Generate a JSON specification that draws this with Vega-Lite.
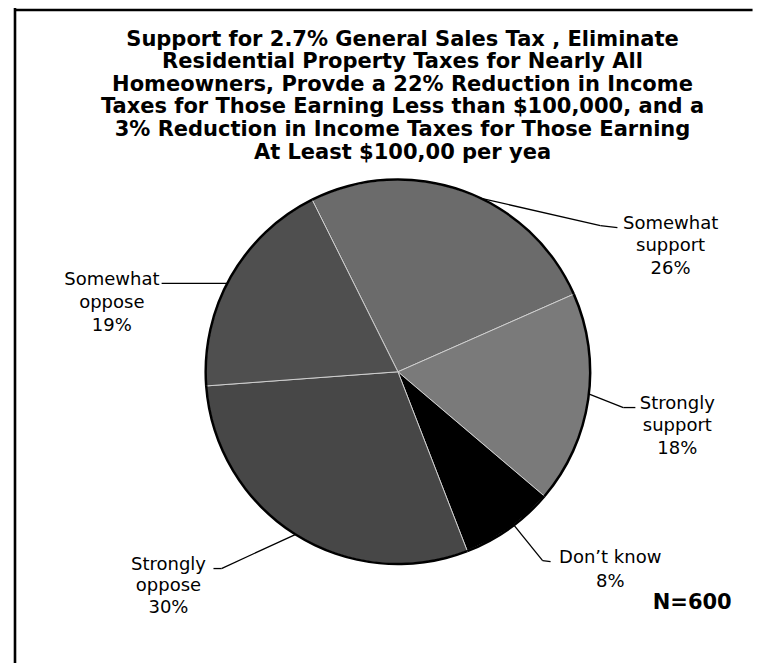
{
  "$schema": "https://vega.github.io/schema/vega-lite/v6.json",
  "width": 760,
  "height": 665,
  "autosize": {"type": "fit", "contains": "padding"},
  "padding": {"left": 13, "top": 6, "right": 0, "bottom": 0},
  "background": "white",
  "title": {
    "text": [
      "Support for 2.7% General Sales Tax , Eliminate",
      "Residential Property Taxes for Nearly All",
      "Homeowners, Provde a 22% Reduction in Income",
      "Taxes for Those Earning Less than $100,000, and a",
      "3% Reduction in Income Taxes for Those Earning",
      "At Least $100,00 per yea"
    ],
    "font": "DejaVu Sans",
    "fontSize": 21,
    "fontWeight": "bold",
    "lineHeight": 22.6,
    "color": "#000000",
    "anchor": "middle",
    "dx": 15,
    "offset": -156
  },
  "data": {
    "values": [
      {"response": "Somewhat support", "percent": 26, "slice": 1, "label": "Somewhat\nsupport\n26%"},
      {"response": "Strongly support", "percent": 18, "slice": 2, "label": "Strongly\nsupport\n18%"},
      {"response": "Don’t know", "percent": 8, "slice": 3, "label": "Don’t know\n8%"},
      {"response": "Strongly oppose", "percent": 30, "slice": 4, "label": "Strongly\noppose\n30%"},
      {"response": "Somewhat oppose", "percent": 19, "slice": 5, "label": "Somewhat\noppose\n19%"}
    ]
  },
  "layer": [
    {
      "data": {"values": [{"frame": "left"}]},
      "mark": {"type": "rule", "color": "#000000", "strokeWidth": 2.6},
      "encoding": {
        "x": {"datum": 0, "type": "quantitative", "scale": {"domain": [0, 1], "nice": false, "zero": false}, "axis": null},
        "y": {"datum": 0, "type": "quantitative", "scale": {"domain": [0, 1], "nice": false, "zero": false, "reverse": true}, "axis": null},
        "y2": {"datum": 1}
      }
    },
    {
      "data": {"values": [{"frame": "top"}]},
      "mark": {"type": "rule", "color": "#000000", "strokeWidth": 2.6},
      "encoding": {
        "x": {"datum": 0, "type": "quantitative", "axis": null},
        "x2": {"datum": 0.99},
        "y": {"datum": 0.003, "type": "quantitative", "axis": null}
      }
    },
    {
      "transform": [{"filter": "datum.slice === 1"}],
      "mark": {"type": "rule", "color": "#000000", "strokeWidth": 1.3},
      "encoding": {
        "x": {"datum": 0.6171, "type": "quantitative", "axis": null},
        "y": {"datum": 0.2883, "type": "quantitative", "axis": null},
        "x2": {"datum": 0.7858},
        "y2": {"datum": 0.3323}
      }
    },
    {
      "transform": [{"filter": "datum.slice === 1"}],
      "mark": {"type": "rule", "color": "#000000", "strokeWidth": 1.3},
      "encoding": {
        "x": {"datum": 0.7858, "type": "quantitative", "axis": null},
        "y": {"datum": 0.3323, "type": "quantitative", "axis": null},
        "x2": {"datum": 0.8086},
        "y2": {"datum": 0.3354}
      }
    },
    {
      "transform": [{"filter": "datum.slice === 2"}],
      "mark": {"type": "rule", "color": "#000000", "strokeWidth": 1.3},
      "encoding": {
        "x": {"datum": 0.7657, "type": "quantitative", "axis": null},
        "y": {"datum": 0.5873, "type": "quantitative", "axis": null},
        "x2": {"datum": 0.8166},
        "y2": {"datum": 0.6100}
      }
    },
    {
      "transform": [{"filter": "datum.slice === 2"}],
      "mark": {"type": "rule", "color": "#000000", "strokeWidth": 1.3},
      "encoding": {
        "x": {"datum": 0.8166, "type": "quantitative", "axis": null},
        "y": {"datum": 0.6100, "type": "quantitative", "axis": null},
        "x2": {"datum": 0.8327},
        "y2": {"datum": 0.6100}
      }
    },
    {
      "transform": [{"filter": "datum.slice === 3"}],
      "mark": {"type": "rule", "color": "#000000", "strokeWidth": 1.3},
      "encoding": {
        "x": {"datum": 0.6640, "type": "quantitative", "axis": null},
        "y": {"datum": 0.7815, "type": "quantitative", "axis": null},
        "x2": {"datum": 0.7082},
        "y2": {"datum": 0.8437}
      }
    },
    {
      "transform": [{"filter": "datum.slice === 3"}],
      "mark": {"type": "rule", "color": "#000000", "strokeWidth": 1.3},
      "encoding": {
        "x": {"datum": 0.7082, "type": "quantitative", "axis": null},
        "y": {"datum": 0.8437, "type": "quantitative", "axis": null},
        "x2": {"datum": 0.7189},
        "y2": {"datum": 0.8452}
      }
    },
    {
      "transform": [{"filter": "datum.slice === 4"}],
      "mark": {"type": "rule", "color": "#000000", "strokeWidth": 1.3},
      "encoding": {
        "x": {"datum": 0.3842, "type": "quantitative", "axis": null},
        "y": {"datum": 0.7997, "type": "quantitative", "axis": null},
        "x2": {"datum": 0.2771},
        "y2": {"datum": 0.8558}
      }
    },
    {
      "transform": [{"filter": "datum.slice === 4"}],
      "mark": {"type": "rule", "color": "#000000", "strokeWidth": 1.3},
      "encoding": {
        "x": {"datum": 0.2771, "type": "quantitative", "axis": null},
        "y": {"datum": 0.8558, "type": "quantitative", "axis": null},
        "x2": {"datum": 0.2664},
        "y2": {"datum": 0.8558}
      }
    },
    {
      "transform": [{"filter": "datum.slice === 5"}],
      "mark": {"type": "rule", "color": "#000000", "strokeWidth": 1.3},
      "encoding": {
        "x": {"datum": 0.1968, "type": "quantitative", "axis": null},
        "y": {"datum": 0.4203, "type": "quantitative", "axis": null},
        "x2": {"datum": 0.2905},
        "y2": {"datum": 0.4203}
      }
    },
    {
      "mark": {"type": "arc", "outerRadius": 192, "stroke": "#cfcfcf", "strokeWidth": 1},
      "encoding": {
        "x": {"datum": 0.514, "type": "quantitative", "axis": null},
        "y": {"datum": 0.5554, "type": "quantitative", "axis": null},
        "theta": {"field": "percent", "type": "quantitative", "stack": true, "scale": {"range": [-0.4625, 5.8207]}},
        "order": {"field": "slice", "type": "quantitative"},
        "color": {
          "field": "response",
          "type": "nominal",
          "legend": null,
          "scale": {
            "domain": ["Somewhat support", "Strongly support", "Don’t know", "Strongly oppose", "Somewhat oppose"],
            "range": ["#6b6b6b", "#7a7a7a", "#000000", "#474747", "#4f4f4f"]
          }
        }
      }
    },
    {
      "mark": {"type": "arc", "innerRadius": 191, "outerRadius": 193.5, "color": "#000000"},
      "encoding": {
        "x": {"datum": 0.514, "type": "quantitative", "axis": null},
        "y": {"datum": 0.5554, "type": "quantitative", "axis": null},
        "theta": {"field": "percent", "type": "quantitative", "stack": true, "scale": {"range": [-0.4625, 5.8207]}},
        "order": {"field": "slice", "type": "quantitative"}
      }
    },
    {
      "transform": [{"filter": "datum.slice === 1"}],
      "mark": {"type": "text", "font": "DejaVu Sans", "fontSize": 18, "lineBreak": "\n", "lineHeight": 22.5, "align": "center", "baseline": "middle", "color": "#000000"},
      "encoding": {
        "x": {"datum": 0.880, "type": "quantitative", "axis": null},
        "y": {"datum": 0.3293, "type": "quantitative", "axis": null},
        "text": {"field": "label", "type": "nominal"}
      }
    },
    {
      "transform": [{"filter": "datum.slice === 2"}],
      "mark": {"type": "text", "font": "DejaVu Sans", "fontSize": 18, "lineBreak": "\n", "lineHeight": 22.5, "align": "center", "baseline": "middle", "color": "#000000"},
      "encoding": {
        "x": {"datum": 0.889, "type": "quantitative", "axis": null},
        "y": {"datum": 0.6039, "type": "quantitative", "axis": null},
        "text": {"field": "label", "type": "nominal"}
      }
    },
    {
      "transform": [{"filter": "datum.slice === 3"}],
      "mark": {"type": "text", "font": "DejaVu Sans", "fontSize": 18, "lineBreak": "\n", "lineHeight": 24, "align": "center", "baseline": "middle", "color": "#000000"},
      "encoding": {
        "x": {"datum": 0.799, "type": "quantitative", "axis": null},
        "y": {"datum": 0.8391, "type": "quantitative", "axis": null},
        "text": {"field": "label", "type": "nominal"}
      }
    },
    {
      "transform": [{"filter": "datum.slice === 4"}],
      "mark": {"type": "text", "font": "DejaVu Sans", "fontSize": 18, "lineBreak": "\n", "lineHeight": 21.5, "align": "center", "baseline": "middle", "color": "#000000"},
      "encoding": {
        "x": {"datum": 0.206, "type": "quantitative", "axis": null},
        "y": {"datum": 0.8498, "type": "quantitative", "axis": null},
        "text": {"field": "label", "type": "nominal"}
      }
    },
    {
      "transform": [{"filter": "datum.slice === 5"}],
      "mark": {"type": "text", "font": "DejaVu Sans", "fontSize": 18, "lineBreak": "\n", "lineHeight": 23, "align": "center", "baseline": "middle", "color": "#000000"},
      "encoding": {
        "x": {"datum": 0.130, "type": "quantitative", "axis": null},
        "y": {"datum": 0.4158, "type": "quantitative", "axis": null},
        "text": {"field": "label", "type": "nominal"}
      }
    },
    {
      "data": {"values": [{"sample": "N=600"}]},
      "mark": {"type": "text", "font": "DejaVu Sans", "fontSize": 21, "fontWeight": "bold", "align": "center", "baseline": "middle", "color": "#000000"},
      "encoding": {
        "x": {"datum": 0.909, "type": "quantitative", "axis": null},
        "y": {"datum": 0.909, "type": "quantitative", "axis": null},
        "text": {"field": "sample", "type": "nominal"}
      }
    }
  ],
  "config": {
    "view": {"stroke": null}
  }
}
